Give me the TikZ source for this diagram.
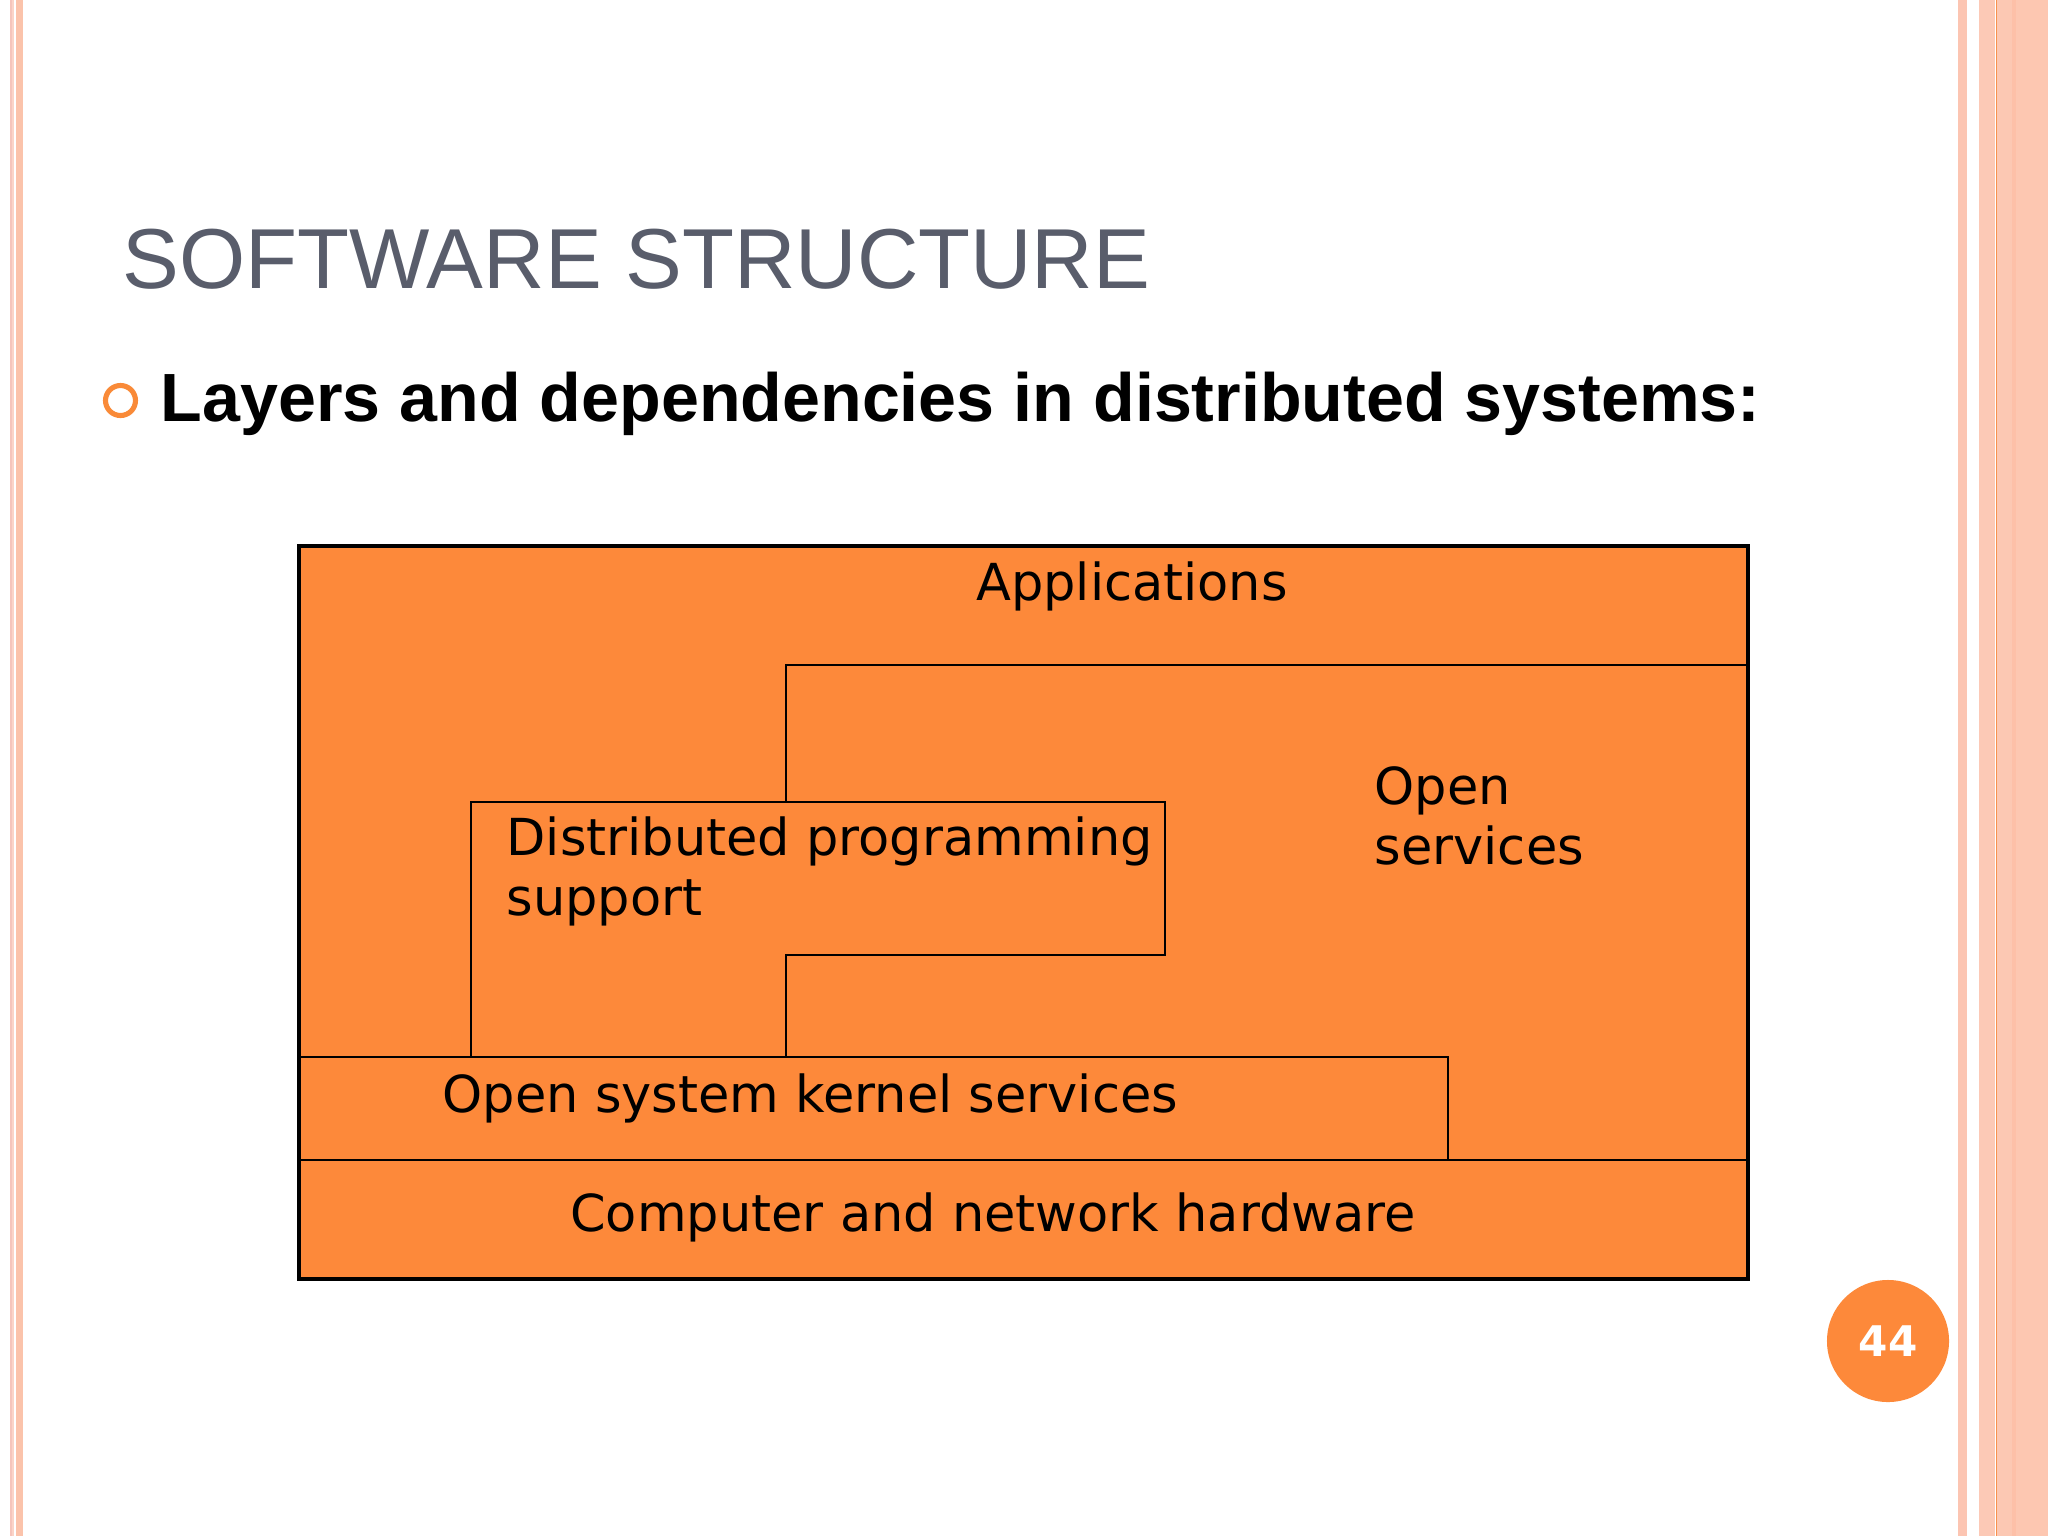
\documentclass[tikz,border=0pt]{standalone}
\usepackage{fontspec}
\setmainfont{DejaVu Sans}
\newfontfamily\arialfont{Liberation Sans}
\definecolor{boxorange}{HTML}{FD893A}
\definecolor{titlegrey}{HTML}{595D6B}
\definecolor{ringorange}{HTML}{F98A38}
\definecolor{stripeA}{HTML}{F5C5BC}
\definecolor{stripeB}{HTML}{FBD4C8}
\definecolor{stripeC}{HTML}{FBC3AB}
\definecolor{stripeD}{HTML}{FCC5B2}
\definecolor{stripeE}{HTML}{FCC9B6}
\definecolor{stripeF}{HTML}{F8914D}
\definecolor{stripeG}{HTML}{FCC8B3}
\definecolor{stripeH}{HTML}{FDC0A8}
\definecolor{stripeI}{HTML}{FDC7B1}
\begin{document}
\begin{tikzpicture}[x=0.01cm,y=-0.01cm,
  layertext/.style={inner sep=0pt, font=\fontsize{14.5pt}{16.8pt}\selectfont, text=black},
  layerline/.style={draw=black, line width=0.8pt},
]
\useasboundingbox (0,0) rectangle (2048,1536);
\fill[white] (0,0) rectangle (2048,1536);
% side stripes
\fill[stripeA] (10,0) rectangle (12.3,1536);
\fill[stripeB] (12.3,0) rectangle (14,1536);
\fill[stripeC] (15.7,0) rectangle (23.3,1536);
\fill[stripeD] (1958.3,0) rectangle (1966.7,1536);
\fill[stripeE] (1979.3,0) rectangle (1995,1536);
\fill[stripeF] (1996,0) rectangle (1997.3,1536);
\fill[stripeG] (1997.3,0) rectangle (2011.7,1536);
\fill[stripeH] (2011.7,0) rectangle (2016,1536);
\fill[stripeI] (2016,0) rectangle (2048,1536);
% title and bullet
\node[anchor=base west, inner sep=0pt, text=titlegrey, font=\arialfont\fontsize{24.2pt}{28pt}\selectfont] (title) at (122,288) {SOFTWARE STRUCTURE};
\node[circle, draw=ringorange, line width=1.45pt, minimum size=30*0.2845pt, inner sep=0pt] (bullet) at (120.5,400.5) {};
\node[anchor=base west, inner sep=0pt, text=black, font=\arialfont\bfseries\fontsize{19.4pt}{23pt}\selectfont] (subtitle) at (160,421) {Layers and dependencies in distributed systems:};
% diagram
\coordinate (tl) at (299,546);
\coordinate (br) at (1748,1279);
\path[fill=boxorange, draw=black, line width=1pt] (tl) rectangle (br);
\coordinate (osA) at (786,802);
\coordinate (osB) at (786,665);
\coordinate (osC) at (1748,665);
\draw[layerline] (osA) -- (osB) -- (osC);
\coordinate (dpA) at (471,1057);
\coordinate (dpB) at (471,802);
\coordinate (dpC) at (1165,802);
\coordinate (dpD) at (1165,955);
\coordinate (dpE) at (786,955);
\coordinate (dpF) at (786,1057);
\draw[layerline] (dpA) -- (dpB) -- (dpC) -- (dpD) -- (dpE) -- (dpF);
\coordinate (kA) at (299,1057);
\coordinate (kB) at (1448,1057);
\coordinate (kC) at (1448,1160);
\draw[layerline] (kA) -- (kB) -- (kC);
\coordinate (hA) at (299,1160);
\coordinate (hB) at (1748,1160);
\draw[layerline] (hA) -- (hB);
% layer labels
\node[layertext, anchor=base] (apps) at (1132,600) {Applications};
\node[layertext, anchor=base west, align=left] (opensvc) at (1374,864) {Open\\services};
\node[layertext, anchor=base west, align=left] (dps) at (506,915) {Distributed programming\\support};
\node[layertext, anchor=base west] (kernel) at (442,1112) {Open system kernel services};
\node[layertext, anchor=base] (hw) at (993,1231) {Computer and network hardware};
% page number
\node[circle, fill=boxorange, minimum size=122*0.2845pt, inner sep=0pt] (pagecircle) at (1888,1341) {};
\node[inner sep=0pt, text=white, font=\bfseries\fontsize{12pt}{14pt}\selectfont] (pagenum) at (pagecircle.center) {44};
\end{tikzpicture}
\end{document}
